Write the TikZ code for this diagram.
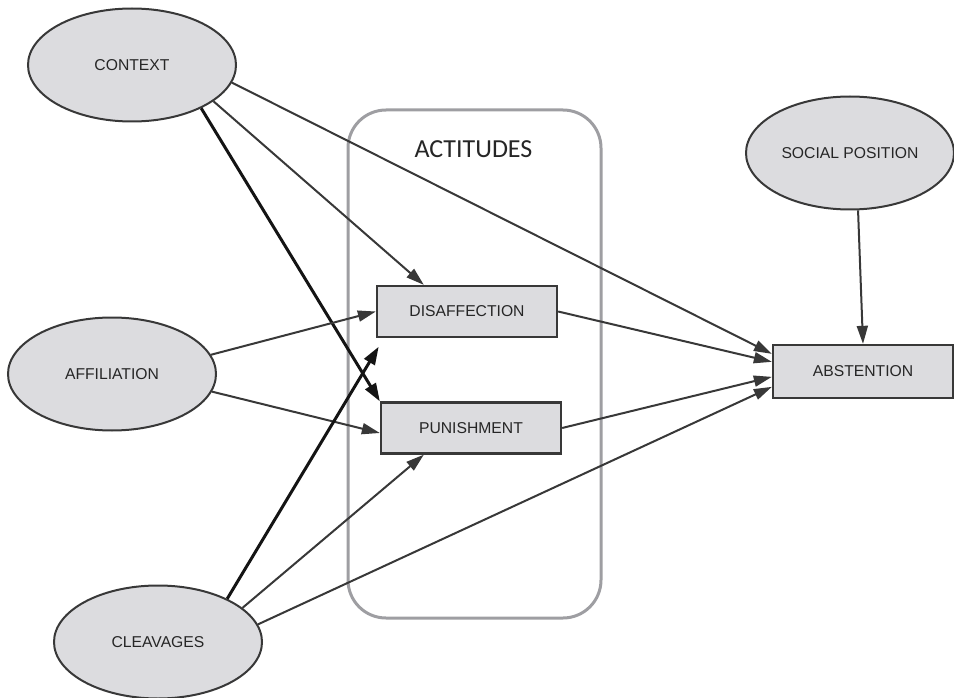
\documentclass[tikz,border=0pt]{standalone}
\usepackage{fontspec}
\setmainfont{Liberation Sans}
\newfontfamily\calibrifont{Carlito}
\usepackage{tikz}
\usetikzlibrary{shapes.geometric,arrows.meta}
\definecolor{nodefill}{HTML}{DCDCDF}
\definecolor{nodeline}{HTML}{383838}
\definecolor{framegray}{HTML}{9E9EA2}

\begin{document}
\begin{tikzpicture}[x=1pt,y=-1pt,
    factor/.style={ellipse,draw=nodeline,line width=2pt,fill=nodefill,minimum width=208pt,minimum height=113pt,inner sep=0pt,font=\fontsize{15.7}{18}\selectfont,text=black!85},
    box/.style={rectangle,draw=nodeline,line width=2.3pt,fill=nodefill,minimum width=180pt,minimum height=51pt,inner sep=0pt,font=\fontsize{15.7}{18}\selectfont,text=black!85},
    link/.style={draw=black!78,line width=2pt,-{Triangle[length=18pt,width=11pt]}},
    strong link/.style={draw=black!92,line width=3pt,-{Triangle[length=18pt,width=12pt]}}]
      \useasboundingbox (0,0) rectangle (954,698);
      \node[draw=framegray,line width=3pt,rounded corners=38pt,minimum width=253pt,minimum height=508pt](actitudes) at (474.5,364){};
      \node[font=\calibrifont\fontsize{26}{30}\selectfont,text=black!85](title) at (473.5,149){ACTITUDES};

      \node[factor](context) at (132,65){CONTEXT\hspace{14pt}};
      \node[factor](affiliation) at (112,374){AFFILIATION};
      \node[factor](cleavages) at (158,642){CLEAVAGES};
      \node[factor](social) at (850,153){SOCIAL POSITION};
      \node[box](disaffection) at (467,311.5){DISAFFECTION};
      \node[box](punishment) at (471,428){PUNISHMENT};
      \node[box,minimum height=53pt](abstention) at (863,371.5){ABSTENTION};

      \draw[link] (context.-10) -- ([yshift=-10pt]abstention.north west);
      \draw[link] (context.-24) -- ([xshift=48pt]disaffection.north west);
      \draw[strong link] (context.-32) -- (punishment.north west);
      \draw[link] (affiliation.11) -- (disaffection.west);
      \draw[link] (affiliation.-10) -- ([yshift=-5pt]punishment.west);
      \draw[strong link,shorten >=10pt] (cleavages.32) -- ([xshift=8pt]disaffection.south west);
      \draw[link] (cleavages.22) -- ([xshift=44pt]punishment.south west);
      \draw[link] (cleavages.10) -- ([yshift=-43pt]abstention.north west);
      \draw[link] (disaffection.east) -- ([yshift=-18pt]abstention.north west);
      \draw[link] (punishment.east) -- ([yshift=-33pt]abstention.north west);
      \draw[link] (social.-82) -- (abstention.north);
    \end{tikzpicture}
\end{document}
